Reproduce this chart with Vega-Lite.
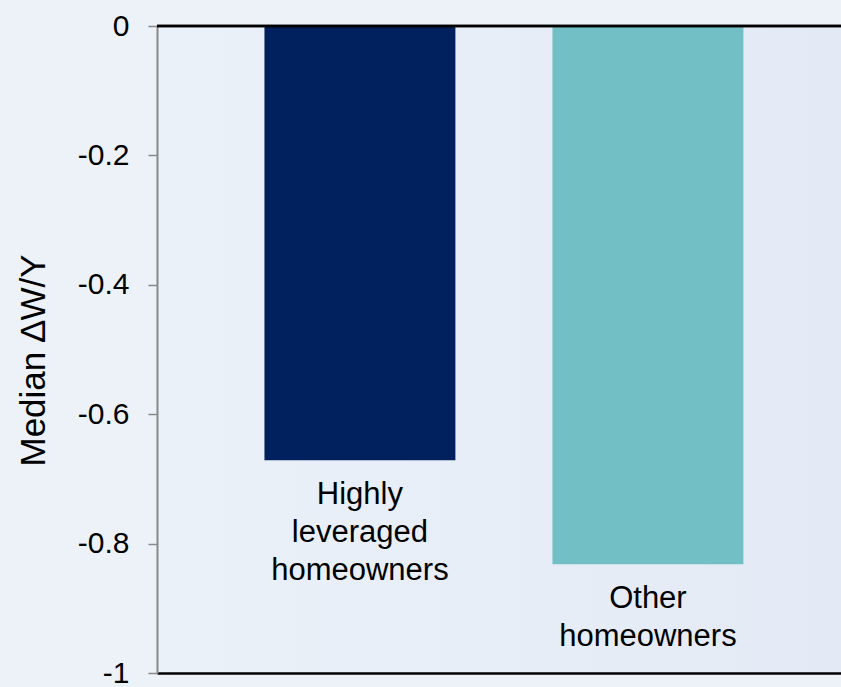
{
  "$schema": "https://vega.github.io/schema/vega-lite/v6.json",
  "width": 684,
  "height": 647,
  "autosize": {"type": "none"},
  "padding": {"left": 157, "top": 26, "right": 0, "bottom": 14},
  "background": "#EDF2F9",
  "config": {
    "view": {
      "stroke": null,
      "fill": {
        "gradient": "linear", "x1": 0, "y1": 0, "x2": 1, "y2": 0,
        "stops": [{"offset": 0, "color": "#EBF1F9"}, {"offset": 1, "color": "#E3EAF5"}]
      }
    },
    "font": "Liberation Sans"
  },
  "data": {
    "values": [
      {"group": "Highly leveraged homeowners", "label": "Highly\nleveraged\nhomeowners", "value": -0.671},
      {"group": "Other homeowners", "label": "Other\nhomeowners", "value": -0.832}
    ]
  },
  "layer": [
    {
      "mark": {"type": "bar"},
      "encoding": {
        "x": {
          "field": "group", "type": "nominal", "sort": null,
          "scale": {"paddingInner": 0.337, "paddingOuter": 0.356, "align": 0.524},
          "axis": {"title": null, "labels": false, "ticks": false, "domainColor": "#000000", "domainWidth": 2.5, "grid": false}
        },
        "y": {
          "field": "value", "type": "quantitative",
          "scale": {"domain": [-1, 0], "nice": false},
          "axis": {
            "values": [0, -0.2, -0.4, -0.6, -0.8, -1],
            "labelExpr": "datum.value === 0 ? '0' : '-' + format(-datum.value, '~g')",
            "labelFontSize": 30, "labelColor": "#000000", "labelPadding": 19,
            "tickSize": 9, "tickColor": "#888888", "tickWidth": 1.5,
            "domainColor": "#888888", "domainWidth": 2,
            "grid": false,
            "title": "Median \u2206W/Y", "titleFontSize": 35, "titleFontWeight": "normal", "titleColor": "#000000",
            "titleAngle": -90, "titleX": -124, "titleY": 334, "titleBaseline": "middle", "titleAlign": "center"
          }
        },
        "color": {
          "field": "group", "type": "nominal",
          "scale": {"domain": ["Highly leveraged homeowners", "Other homeowners"], "range": ["#01215E", "#72BFC5"]},
          "legend": null
        }
      }
    },
    {
      "mark": {"type": "text", "baseline": "top", "align": "center", "fontSize": 31, "lineBreak": "\n", "lineHeight": 38, "dy": 20, "color": "#000000"},
      "encoding": {
        "x": {"field": "group", "type": "nominal", "sort": null},
        "y": {"field": "value", "type": "quantitative"},
        "text": {"field": "label"}
      }
    },
    {
      "mark": {"type": "rule", "color": "#000000", "strokeWidth": 2.5},
      "encoding": {"y": {"datum": 0}}
    }
  ]
}
